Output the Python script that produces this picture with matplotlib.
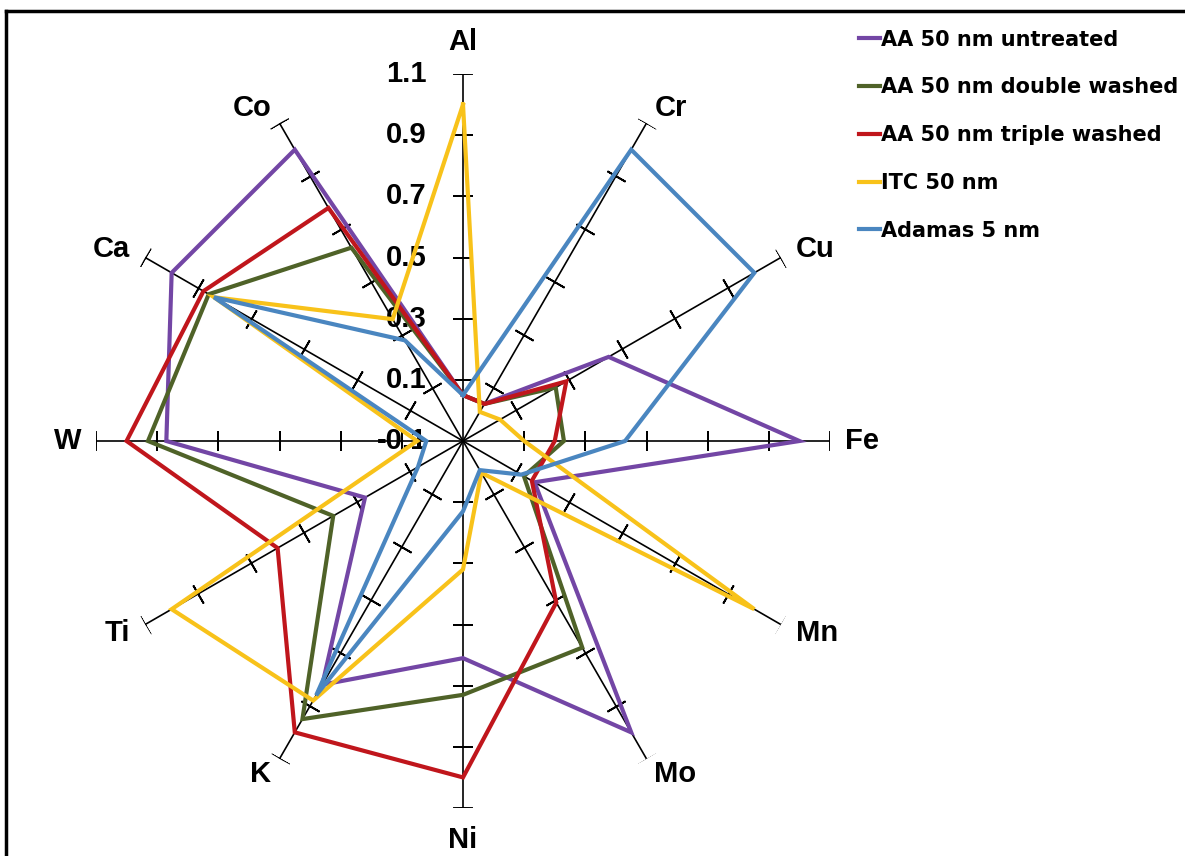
import numpy as np
import matplotlib
matplotlib.use("Agg")
import matplotlib.pyplot as plt
from matplotlib.lines import Line2D

# elements on the spokes, clockwise from the top
elements = ["Al", "Cr", "Cu", "Fe", "Mn", "Mo", "Ni", "K", "Ti", "W", "Ca", "Co"]

aa_untreated = [0.05, 0.04, 0.45, 1.00, 0.17, 1.00, 0.61, 0.82, 0.27, 0.87, 1.00, 1.00]
aa_double    = [0.05, 0.04, 0.25, 0.23, 0.13, 0.68, 0.73, 0.95, 0.39, 0.93, 0.86, 0.63]
aa_triple    = [0.05, 0.04, 0.29, 0.20, 0.16, 0.51, 1.00, 1.00, 0.60, 1.00, 0.88, 0.78]
itc_50       = [1.00, 0.01, 0.04, 0.10, 1.00, 0.02, 0.32, 0.88, 1.00, 0.05, 0.84, 0.36]
adamas_5     = [0.05, 1.00, 1.00, 0.43, 0.12, 0.01, 0.13, 0.86, 0.07, 0.02, 0.84, 0.28]

series_names = ["AA 50 nm untreated", "AA 50 nm double washed",
                "AA 50 nm triple washed", "ITC 50 nm", "Adamas 5 nm"]
series_colors = ["#7346a5", "#4f6228", "#c0161c", "#f8c21a", "#4a86c0"]

tick_values = [0.1, 0.3, 0.5, 0.7, 0.9, 1.1]
tick_labels = ["0.1", "0.3", "0.5", "0.7", "0.9", "1.1"]
rmin, rmax = -0.1, 1.1

plt.rcParams["font.family"] = ["Liberation Sans", "DejaVu Sans"]

fig = plt.figure(figsize=(11.85, 8.56), dpi=100)
W, H = 1185, 856
cx, cy, rad = 463, 441, 367
ax = fig.add_axes([(cx - rad) / W, (H - cy - rad) / H, 2 * rad / W, 2 * rad / H],
                  projection="polar")
ax.set_theta_offset(np.pi / 2)
ax.set_theta_direction(-1)
ax.set_rlim(rmin, rmax)
ax.grid(False)
ax.set_xticks([])
ax.set_yticks([])
ax.spines["polar"].set_visible(False)
ax.patch.set_alpha(0)

n = len(elements)
theta = np.arange(n) * 2 * np.pi / n
px = 72 / 100  # pixels -> points

# spokes with cross ticks and element labels beside the end caps
for i, t in enumerate(theta):
    ang = 90 - i * 30
    ax.plot([t, t], [rmin, rmax], color="black", lw=1.2, zorder=1)
    ax.plot([t] * len(tick_values), tick_values, linestyle="none",
            marker=(2, 2, ang), markersize=15, markeredgewidth=1.3,
            color="black", zorder=1)
    c, s = np.cos(np.radians(ang)), np.sin(np.radians(ang))
    if abs(c) < 0.01:
        off, ha = (0, 32 * s), "center"
    else:
        gap = 15 if abs(c) > 0.8 else 8
        off = (gap * np.sign(c), 17 * s)
        ha = "left" if c > 0 else "right"
    ax.annotate(elements[i], xy=(t, rmax), xytext=(off[0] * px, off[1] * px),
                textcoords="offset points", ha=ha, va="center",
                fontsize=21, fontweight="bold")

# value labels along the Al spoke
for v, lab in zip([rmin] + tick_values, ["-0.1"] + tick_labels):
    ax.annotate(lab, xy=(0, v), xytext=(-26, 0), textcoords="offset points",
                ha="right", va="center", fontsize=21, fontweight="bold")

# series
all_series = [aa_untreated, aa_double, aa_triple, itc_50, adamas_5]
closed_theta = np.append(theta, theta[0])
handles = []
for vals, name, col in zip(all_series, series_names, series_colors):
    r = np.append(vals, vals[0])
    ln, = ax.plot(closed_theta, r, color=col, lw=3.0, label=name, zorder=3,
                  solid_joinstyle="miter")
    handles.append(ln)

fig.legend(handles=handles, loc="upper left",
           bbox_to_anchor=(840 / W, 1 - 11 / H), frameon=False,
           handlelength=1.0, handletextpad=0.05, labelspacing=1.33,
           prop={"family": "DejaVu Sans", "weight": "bold", "size": 15})

# outer frame edges
fig.add_artist(Line2D([6 / W, 6 / W], [0, 1 - 11 / H], color="black", lw=2.5))
fig.add_artist(Line2D([6 / W, 1], [1 - 11 / H, 1 - 11 / H], color="black", lw=2.5))

fig.savefig("out.png", dpi=100)
